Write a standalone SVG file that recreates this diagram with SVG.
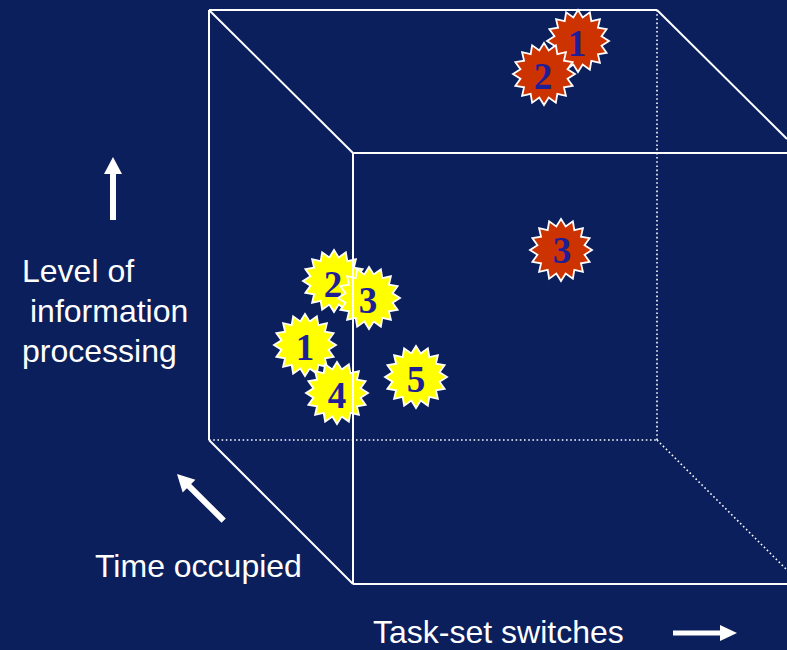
<svg xmlns="http://www.w3.org/2000/svg" xmlns:xlink="http://www.w3.org/1999/xlink" width="787" height="650" viewBox="0 0 787 650">
<defs>
<style>
.bg{fill:#0B1F5C}
.edge{stroke:#FFFFFF;stroke-width:2;fill:none}
.dot{stroke:#FFFFFF;stroke-width:1.6;fill:none;stroke-dasharray:1.6 2.6}
.red{fill:#CC3300;stroke:#FFFFFF;stroke-width:1.8}
.yel{fill:#FFFF00;stroke:#FFFFFF;stroke-width:1.8}
.num{font-family:"Liberation Serif","Times New Roman",serif;font-weight:bold;font-size:37px;fill:#1E1E96;text-anchor:middle}
.lbl{font-family:"Liberation Sans",Arial,sans-serif;font-size:32px;fill:#FFFFFF}
.arr{fill:#FFFFFF}
</style>
<polygon id="star" points="31,0 23.54,4.68 28.64,11.86 19.96,13.33 21.92,21.92 13.33,19.96 11.86,28.64 4.68,23.54 0,31 -4.68,23.54 -11.86,28.64 -13.33,19.96 -21.92,21.92 -19.96,13.33 -28.64,11.86 -23.54,4.68 -31,0 -23.54,-4.68 -28.64,-11.86 -19.96,-13.33 -21.92,-21.92 -13.33,-19.96 -11.86,-28.64 -4.68,-23.54 0,-31 4.68,-23.54 11.86,-28.64 13.33,-19.96 21.92,-21.92 19.96,-13.33 28.64,-11.86 23.54,-4.68"/>
</defs>
<rect class="bg" x="0" y="0" width="787" height="650"/>

<g id="cube-back">
<line class="edge" x1="209" y1="10" x2="657" y2="10"/>
<line class="edge" x1="209" y1="10" x2="209" y2="440"/>
<line class="dot" x1="657" y1="10" x2="657" y2="440"/>
<line class="dot" x1="209" y1="440" x2="657" y2="440"/>
</g>

<g id="red-1"><use xlink:href="#star" class="red" x="578" y="41"/><text class="num" x="577" y="56">1</text></g>
<g id="red-2"><use xlink:href="#star" class="red" x="544" y="74"/><text class="num" x="543" y="89">2</text></g>
<g id="red-3"><use xlink:href="#star" class="red" x="561" y="250"/><text class="num" x="562" y="263">3</text></g>

<g id="yel-2"><use xlink:href="#star" class="yel" x="334" y="281"/><text class="num" x="333" y="297">2</text></g>
<g id="yel-3"><use xlink:href="#star" class="yel" x="369" y="298"/><text class="num" x="368" y="313">3</text></g>
<g id="yel-1"><use xlink:href="#star" class="yel" x="305" y="345"/><text class="num" x="305" y="360">1</text></g>
<g id="yel-4"><use xlink:href="#star" class="yel" x="337" y="393"/><text class="num" x="337" y="408">4</text></g>
<g id="yel-5"><use xlink:href="#star" class="yel" x="416" y="377"/><text class="num" x="416" y="392">5</text></g>

<g id="cube-front">
<line class="edge" x1="209" y1="10" x2="353" y2="153"/>
<line class="edge" x1="657" y1="10" x2="787" y2="139"/>
<line class="edge" x1="209" y1="440" x2="353" y2="584"/>
<line class="dot" x1="657" y1="440" x2="787" y2="570"/>
<line class="edge" x1="353" y1="153" x2="787" y2="153"/>
<line class="edge" x1="353" y1="153" x2="353" y2="584"/>
<line class="edge" x1="353" y1="584" x2="787" y2="584"/>
</g>

<g id="axis-level">
<polygon class="arr" points="113,157 122,174 116,174 116,220 110,220 110,174 104,174"/>
<text class="lbl" x="22" y="282">Level of</text>
<text class="lbl" x="30" y="322">information</text>
<text class="lbl" x="22" y="362">processing</text>
</g>

<g id="axis-time">
<polygon class="arr" transform="translate(177,474) rotate(-45)" points="0,0 9,17 3,17 3,66 -3,66 -3,17 -9,17"/>
<text class="lbl" x="95" y="577">Time occupied</text>
</g>

<g id="axis-task">
<polygon class="arr" points="737,633 720,641 720,635.5 673,635.5 673,630.5 720,630.5 720,625"/>
<text class="lbl" x="373" y="643">Task-set switches</text>
</g>
</svg>
